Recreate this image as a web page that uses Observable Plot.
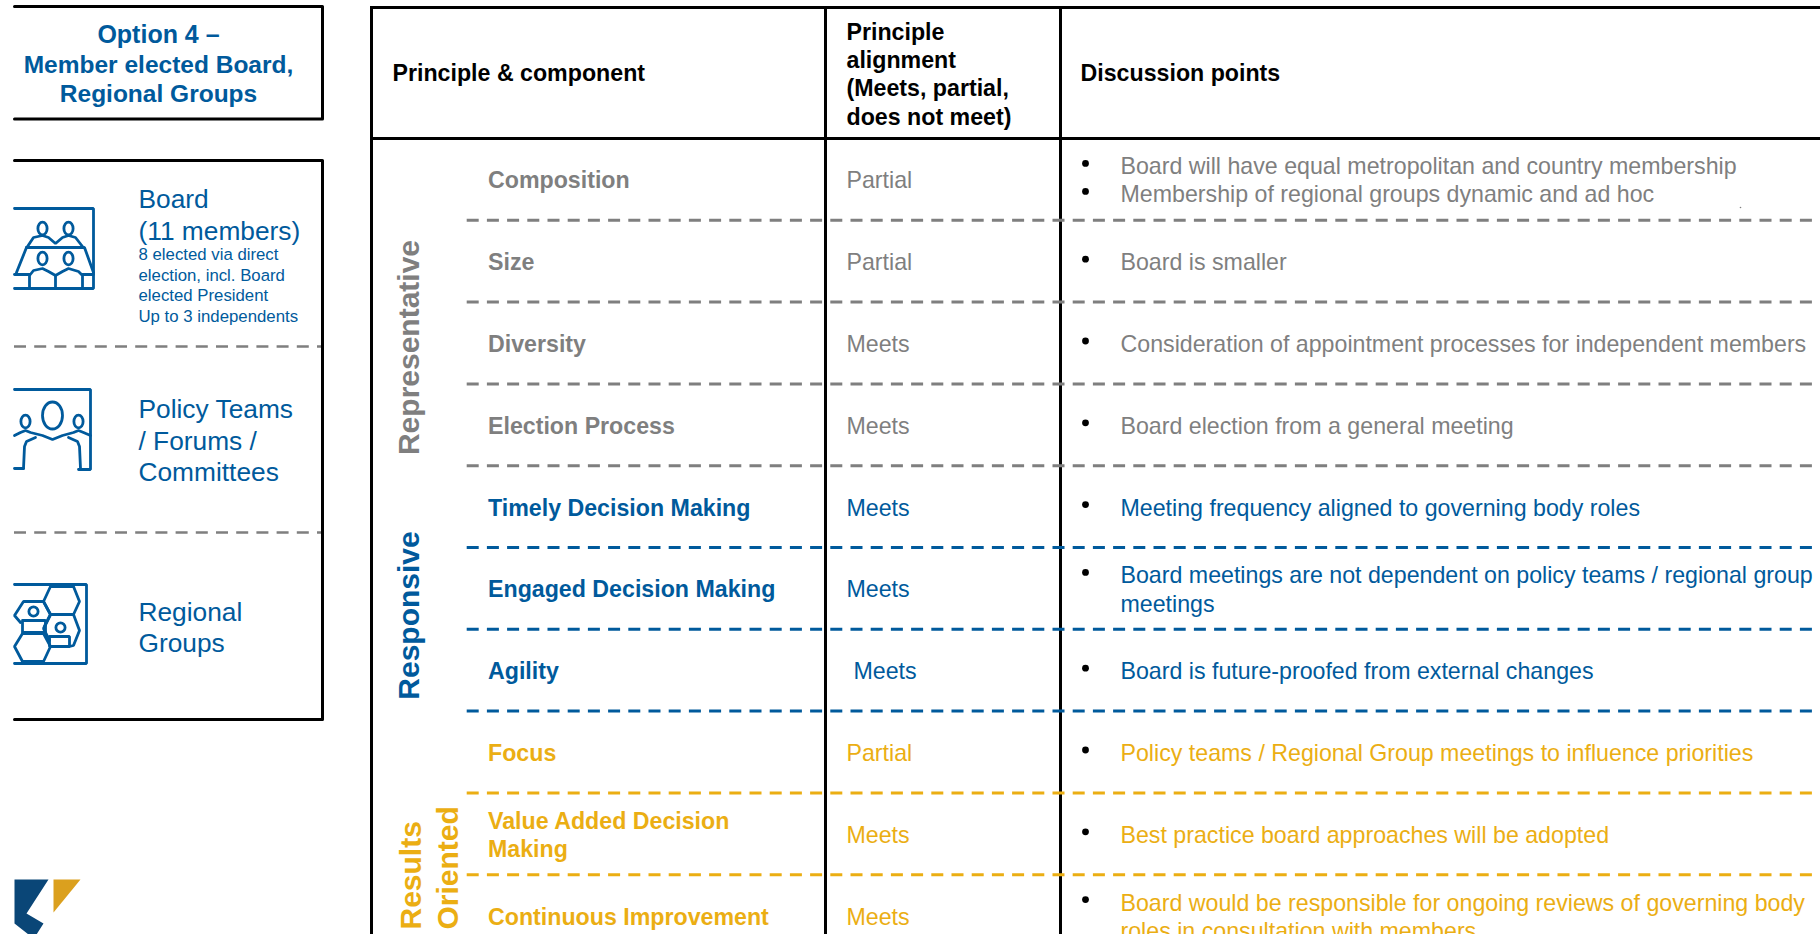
<!DOCTYPE html>
<html>
<head>
<meta charset="utf-8">
<style>html,body{margin:0;padding:0;background:#fff;overflow:hidden}</style>
<script src="https://cdn.jsdelivr.net/npm/d3@7"></script>
<script src="https://cdn.jsdelivr.net/npm/@observablehq/plot@0.6"></script>
</head>
<body>
<div id="chart"></div>
<script>
const principles = ["Representative","Responsive","Results","Oriented"];
const components = ["Composition","Size","Diversity","Election Process","Timely Decision Making","Engaged Decision Making","Agility","Focus","Value Added Decision\nMaking","Continuous Improvement"];
const alignment = ["Partial","Partial","Meets","Meets","Meets","Meets","Meets","Partial","Meets","Meets"];
const rowPrinciple = [0,0,0,0,1,1,1,2,2,2];
const discussion = [
 ["Board will have equal metropolitan and country membership","Membership of regional groups dynamic and ad hoc"],
 ["Board is smaller"],
 ["Consideration of appointment processes for independent members"],
 ["Board election from a general meeting"],
 ["Meeting frequency aligned to governing body roles"],
 ["Board meetings are not dependent on policy teams / regional group\nmeetings"],
 ["Board is future-proofed from external changes"],
 ["Policy teams / Regional Group meetings to influence priorities"],
 ["Best practice board approaches will be adopted"],
 ["Board would be responsible for ongoing reviews of governing body\nroles in consultation with members"]
];
const dividerPrinciple = [0,0,0,0,1,1,1,2,2];
const headers = ["Principle & component","Principle\nalignment\n(Meets, partial,\ndoes not meet)","Discussion points"];
const optionTitle = ["Option 4 –","Member elected Board,","Regional Groups"];
const boardHead = "Board\n(11 members)";
const panelHeads = ["Policy Teams\n/ Forums /\nCommittees","Regional\nGroups"];
const boardNotes = "8 elected via direct\nelection, incl. Board\nelected President\nUp to 3 independents";

const GREY="#7f7f7f", BLUE="#005a9c", GOLD="#ebae13", NAVY="#0a4677", LOGOGOLD="#dba01e";
const tones=[GREY,BLUE,GOLD];
const FONT="Liberation Sans";

// layout
const T=138, R=81.8, cy=i=>T+R*(i+.5);
const DASH="12,8.2";

// pictograms
const iconLines=[
 // board
 [[14,208],[93,208],[93,288],[14,288]],
 [[26,247],[84,247],[93,272]],[[26,247],[16,272]],
 [[14,274],[29,274]],[[82,274],[93,274]],
 [[29,288],[29,275],[33,270],[42,268],[48,271],[55,275],[62,271],[68,268],[78,271],[82,275],[82,288]],[[55,275],[55,288]],
 [[27,246],[33,237],[42,235],[48,237],[55,243],[62,237],[68,235],[75,237],[82,246]],
 // policy
 [[14,389],[90,389],[90,469],[78,469]],[[14,468],[23,468]],
 [[14,435],[20,432],[25,430],[30,432],[42,435],[52,439],[62,435],[73,432],[78,430],[83,432],[90,435]],
 [[35,437],[26,441],[24,446],[23,468]],[[68,437],[77,441],[79,446],[80,468]],
 // regional
 [[14,584],[86,584],[86,663],[14,663]],
 [[50,586],[73,586],[79,601],[73,614],[50,614],[43,601],[50,586]],
 [[43,601],[23,601],[14,615],[20,622]],[[43,601],[50,614],[44,626]],
 [[22,620],[45,620],[45,632],[22,632],[22,620]],
 [[50,614],[73,614],[79,630],[73,645],[69,646]],[[50,614],[43,628],[49,640]],
 [[49,636],[69,636],[69,646],[49,646],[49,636]],
 [[22,633],[43,633],[50,646],[43,661],[22,661],[14,646],[22,633]]
];
// heads: cx, cy, rx, ry
const iconHeads=[[42,228,4.6,6.4],[68,228,4.6,6.4],[42,258,4.6,6.4],[68,258,4.6,6.4],
 [25,421,4.6,6.4],[78,421,4.6,6.4],[52,415,10,13.5],[33,611,4.6,4.6],[60,627,4.6,4.6]];
const logoShapes=[
 {c:NAVY,p:[[14,879],[48,879],[26,913],[43,923],[36,934],[28,934],[14,923]]},
 {c:LOGOGOLD,p:[[53,879],[80,879],[53,912]]}
];
const lines=iconLines.flatMap((p,k)=>p.map(q=>({x:q[0],py:q[1],k})));
const ringOffsets=[[0,-1],[.71,-.71],[1,0],[.71,.71],[0,1],[-.71,.71],[-1,0],[-.71,-.71]];
const heads=iconHeads.flatMap(([a,b,rx,ry],k)=>ringOffsets.map(q=>({x:a+q[0]*rx,py:b+q[1]*ry,k})));
const logos=logoShapes.flatMap((s,k)=>s.p.map(q=>({x:q[0],py:q[1],k,c:s.c})));

const txt=(data,o)=>Plot.text(data,{fontFamily:FONT,textAnchor:"start",lineAnchor:"middle",...o});
const FS=23.2, LH=1.22;

const chart=Plot.plot({
 width:1820,height:934,margin:0,
 x:{domain:[0,1820],range:[0,1820],axis:null},
 y:{domain:[0,934],range:[0,934],axis:null},
 style:{background:"#fff",fontFamily:FONT},
 marks:[
  // left boxes
  Plot.line([[14,6],[322,6],[322,118.5],[14,118.5]],{x:d=>d[0],y:d=>d[1],stroke:"#000",strokeWidth:3}),
  Plot.line([[14,160],[322,160],[322,719],[14,719]],{x:d=>d[0],y:d=>d[1],stroke:"#000",strokeWidth:3}),
  Plot.ruleY([346,532],{x1:14,x2:321,stroke:GREY,strokeWidth:2.6,strokeDasharray:DASH}),
  // panel text
  txt(optionTitle,{x:158,y:(d,i)=>[34,65,94][i],textAnchor:"middle",fontWeight:"bold",fontSize:(d,i)=>i?24.5:25,fill:BLUE}),
  txt([boardHead],{x:138,y:213,fontSize:26.3,lineHeight:1.24,fill:BLUE}),
  txt(panelHeads,{x:138,y:(d,i)=>[439,626][i],fontSize:26.3,lineHeight:1.19,fill:BLUE}),
  txt([boardNotes],{x:138,y:284,fontSize:16.8,lineHeight:1.23,fill:BLUE}),
  // icons
  Plot.line(lines,{x:"x",y:"py",z:"k",stroke:BLUE,strokeWidth:2.8,strokeLinejoin:"miter"}),
  Plot.line(heads,{x:"x",y:"py",z:"k",curve:"cardinal-closed",stroke:BLUE,strokeWidth:2.8}),
  Plot.rect([0],{x1:0,x2:12.5,y1:190,y2:680,fill:"#fff"}),
  // logo
  Plot.line(logos,{x:"x",y:"py",z:"k",fill:"c",stroke:null}),
  // table frame
  Plot.ruleX([371,825,1060],{y1:6,y2:934,stroke:"#000",strokeWidth:3}),
  Plot.ruleY([7,138],{x1:370,x2:1820,stroke:"#000",strokeWidth:3}),
  // dividers
  Plot.ruleY(dividerPrinciple,{y:(d,i)=>T+R*(i+1),x1:466.7,x2:1820,stroke:d=>tones[d],strokeWidth:3,strokeDasharray:DASH}),
  // header
  txt([headers[0]],{x:392,y:73,fontWeight:"bold",fontSize:FS,fill:"#000"}),
  txt([headers[1]],{x:846,y:72.5,fontWeight:"bold",fontSize:FS,lineHeight:LH,fill:"#000"}),
  txt([headers[2]],{x:1080,y:73,fontWeight:"bold",fontSize:FS,fill:"#000"}),
  // rotated principles
  txt([principles[0]],{x:409,y:347,rotate:-90,textAnchor:"middle",fontWeight:"bold",fontSize:30,fill:GREY}),
  txt([principles[1]],{x:409,y:615,rotate:-90,textAnchor:"middle",fontWeight:"bold",fontSize:30,fill:BLUE}),
  txt(principles.slice(2),{x:(d,i)=>[411,448][i],y:929,rotate:-90,fontWeight:"bold",fontSize:30,fill:GOLD}),
  // rows
  txt(components,{x:487.5,y:(d,i)=>cy(i),fontWeight:"bold",fontSize:FS,lineHeight:LH,fill:(d,i)=>tones[rowPrinciple[i]]}),
  txt(alignment,{x:(d,i)=>i===6?853:846,y:(d,i)=>cy(i)+1.5,fontSize:FS,fill:(d,i)=>tones[rowPrinciple[i]]}),
  // discussion
  txt(discussion.flatMap((b,i)=>b.map((t,j)=>({t,i,j,n:b.length}))),{
    text:"t",x:1120,y:d=>cy(d.i)+(d.n>1?(d.j-.5)*28:0),fontSize:FS,lineHeight:LH,fill:d=>tones[rowPrinciple[d.i]]}),
  Plot.dot(discussion.flatMap((b,i)=>b.map((t,j)=>({i,j,n:b.length,two:t.includes("\n")}))),{
    x:1085,y:d=>cy(d.i)+(d.n>1?(d.j-.5)*28:(d.two?-14:0))-2,r:3.4,fill:"#000"}),
  Plot.dot([0],{x:1740,y:207,r:.8,fill:GREY})
 ]
});
document.getElementById("chart").appendChild(chart);
</script>
</body>
</html>
